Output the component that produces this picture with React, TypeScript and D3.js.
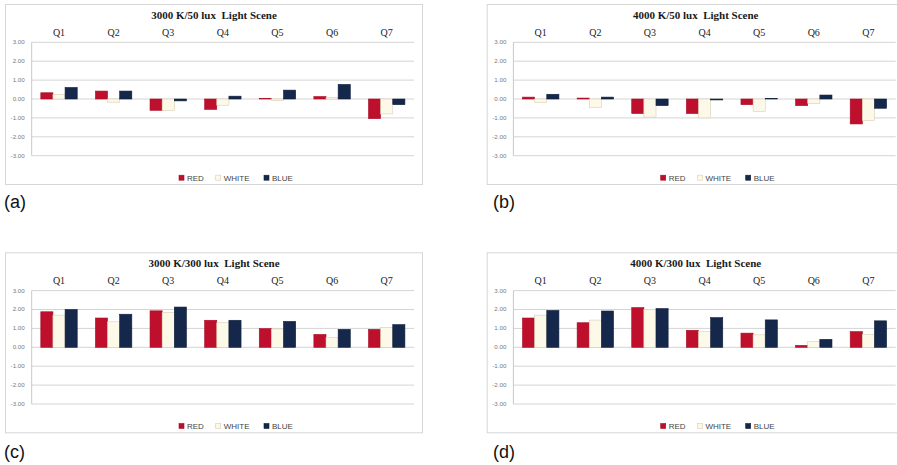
import React from "react";
import * as d3 from "d3";

const categories = ["Q1", "Q2", "Q3", "Q4", "Q5", "Q6", "Q7"];
const seriesNames = ["RED", "WHITE", "BLUE"];
const yTicks = [3, 2, 1, 0, -1, -2, -3];

const titleA = "3000 K/50 lux  Light Scene";
const redA = [0.33, 0.42, -0.6, -0.55, 0.03, 0.13, -1.04];
const whiteA = [0.25, -0.17, -0.6, -0.33, -0.08, 0.07, -0.79];
const blueA = [0.61, 0.42, -0.1, 0.15, 0.47, 0.77, -0.3];

const titleB = "4000 K/50 lux  Light Scene";
const redB = [0.1, 0.05, -0.77, -0.77, -0.3, -0.35, -1.32];
const whiteB = [-0.19, -0.44, -0.96, -1.0, -0.65, -0.23, -1.14];
const blueB = [0.25, 0.1, -0.35, -0.05, 0.03, 0.21, -0.49];

const titleC = "3000 K/300 lux  Light Scene";
const redC = [1.88, 1.55, 1.93, 1.43, 0.99, 0.68, 0.95];
const whiteC = [1.7, 1.35, 1.84, 1.3, 0.97, 0.52, 1.05];
const blueC = [2.0, 1.75, 2.13, 1.43, 1.37, 0.95, 1.2];

const titleD = "4000 K/300 lux  Light Scene";
const redD = [1.55, 1.3, 2.1, 0.9, 0.75, 0.1, 0.83];
const whiteD = [1.7, 1.44, 2.0, 0.83, 0.66, 0.3, 0.68];
const blueD = [1.95, 1.92, 2.05, 1.57, 1.45, 0.42, 1.4];

const panelLabels = ["(a)", "(b)", "(c)", "(d)"];

const fills = ["#BE0F2C", "#FDF9E9", "#15274B"];
const strokes = ["#A80D27", "#D9CDB0", "#0F1F3D"];

const SERIF = "'Liberation Serif', 'Times New Roman', serif";
const SANS = "'Liberation Sans', Arial, sans-serif";

const FRAME_W = 417;
const FRAME_H = 180;
const PLOT_L = 26.7;
const PLOT_W = 382.3;
const Y_TOP = 38.3;
const Y_BOT = 151.7;

const fmt = (v: number) => d3.format(".2f")(v).replace("\u2212", "-");

function Panel({ x, y, title, values }: { x: number; y: number; title: string; values: number[][] }) {
  const xs = d3.scaleBand<string>().domain(categories).range([PLOT_L, PLOT_L + PLOT_W]).paddingInner(1 / 3).paddingOuter(1 / 6);
  const xi = d3.scaleBand<string>().domain(seriesNames).range([0, xs.bandwidth()]).padding(0);
  const ys = d3.scaleLinear().domain([-3, 3]).range([Y_BOT, Y_TOP]);
  const legendX = [174, 210.7, 259];
  const legendY = 173.7;
  return (
    <g transform={`translate(${x},${y})`}>
      <rect x={0.5} y={0.5} width={FRAME_W} height={FRAME_H} fill="#fff" stroke="#D6D6D6" strokeWidth={1} />
      <text x={FRAME_W / 2 + 0.5} y={15} textAnchor="middle" fontFamily={SERIF} fontWeight="bold" fontSize={11} fill="#1a1a1a" style={{ whiteSpace: "pre" }}>
        {title}
      </text>
      {categories.map((c) => (
        <text key={c} x={(xs(c) as number) + xs.bandwidth() / 2} y={32} textAnchor="middle" fontFamily={SERIF} fontSize={10} fill="#222">
          {c}
        </text>
      ))}
      {yTicks.map((t) => (
        <g key={t}>
          <line x1={PLOT_L} x2={PLOT_L + PLOT_W} y1={ys(t)} y2={ys(t)} stroke="#D4D4D4" strokeWidth={1} />
          <text x={PLOT_L - 7} y={ys(t) + 2} textAnchor="end" fontFamily={SANS} fontSize={6.2} fill="#7a7a7a">
            {fmt(t)}
          </text>
        </g>
      ))}
      <line x1={PLOT_L} x2={PLOT_L} y1={Y_TOP} y2={Y_BOT} stroke="#C8C8C8" strokeWidth={1} />
      {categories.map((c, ci) =>
        seriesNames.map((s, si) => {
          const v = values[si][ci];
          const y0 = ys(Math.max(0, v));
          const h = Math.abs(ys(v) - ys(0));
          return (
            <rect
              key={c + s}
              x={(xs(c) as number) + (xi(s) as number)}
              y={y0}
              width={xi.bandwidth()}
              height={h}
              fill={fills[si]}
              stroke={strokes[si]}
              strokeWidth={0.6}
            />
          );
        })
      )}
      {seriesNames.map((s, si) => (
        <g key={s}>
          <rect x={legendX[si]} y={legendY - 2.5} width={5} height={5} fill={fills[si]} stroke={strokes[si]} strokeWidth={0.6} />
          <text x={legendX[si] + 8} y={legendY + 2.9} fontFamily={SANS} fontSize={8} fill="#444">
            {s}
          </text>
        </g>
      ))}
    </g>
  );
}

export default function App() {
  const panels = [
    { x: 5, y: 4, title: titleA, values: [redA, whiteA, blueA] },
    { x: 486.7, y: 4, title: titleB, values: [redB, whiteB, blueB] },
    { x: 5, y: 252.3, title: titleC, values: [redC, whiteC, blueC] },
    { x: 486.7, y: 252.3, title: titleD, values: [redD, whiteD, blueD] },
  ];
  const labelPos = [
    [4, 208],
    [493, 208],
    [4, 458],
    [493, 458],
  ];
  return (
    <svg width={897} height={465} style={{ position: "absolute", left: 0, top: 0, background: "#fff" }}>
      <rect x={0} y={0} width={897} height={465} fill="#fff" />
      {panels.map((p, i) => (
        <Panel key={i} {...p} />
      ))}
      {panelLabels.map((l, i) => (
        <text key={l} x={labelPos[i][0]} y={labelPos[i][1]} fontFamily={SANS} fontSize={18} fill="#111">
          {l}
        </text>
      ))}
    </svg>
  );
}
